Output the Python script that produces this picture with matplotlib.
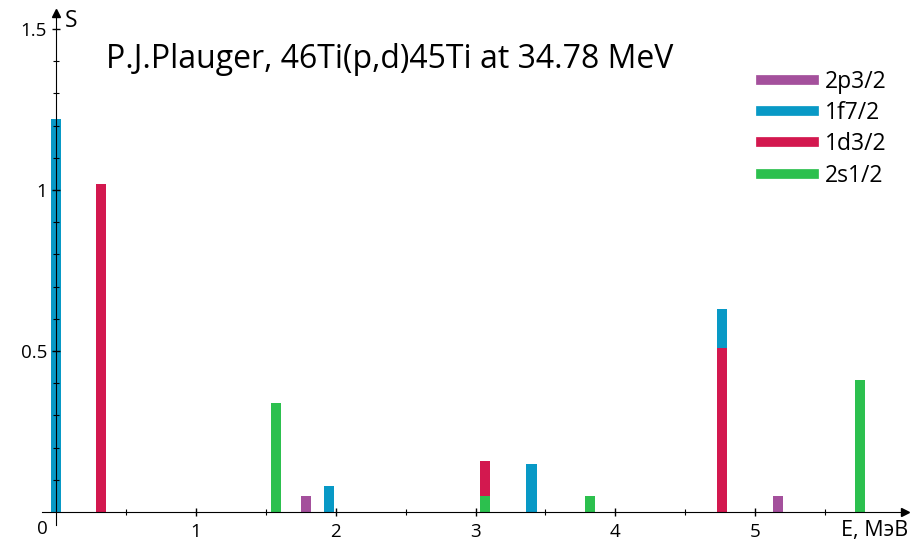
import matplotlib
matplotlib.use("Agg")
import matplotlib.pyplot as plt
from matplotlib.lines import Line2D
import numpy as np

plt.rcParams['font.family'] = ['Open Sans', 'DejaVu Sans']

# Данные: энергия уровня (МэВ) и спектроскопический фактор S
labels = ["2p3/2", "1f7/2", "1d3/2", "2s1/2"]
colors = ["#a4509c", "#0899c6", "#d3184f", "#2cc04e"]

e_2p32 = [1.79, 5.16]
s_2p32 = [0.05, 0.05]

e_1f72 = [0.0, 1.95, 3.40, 4.76]
s_1f72 = [1.22, 0.08, 0.15, 0.12]

e_1d32 = [0.32, 3.07, 4.76]
s_1d32 = [1.02, 0.11, 0.51]

e_2s12 = [1.57, 3.07, 3.82, 5.75]
s_2s12 = [0.34, 0.05, 0.05, 0.41]

x_ticks = [1, 2, 3, 4, 5]
y_ticks = [0.5, 1, 1.5]

fig = plt.figure(figsize=(9.14, 5.44), dpi=100)
ax = fig.add_axes([0.046, 0.0351, 0.944, 0.941])
ax.set_xlim(-0.1, 6.07)
ax.set_ylim(-0.04, 1.55)

# столбики рисуются снизу вверх: 2s1/2, 1d3/2, 1f7/2, 2p3/2
stack = {}
order = [(e_2s12, s_2s12, colors[3]), (e_1d32, s_1d32, colors[2]),
         (e_1f72, s_1f72, colors[1]), (e_2p32, s_2p32, colors[0])]
for e, s, c in order:
    bottom = [stack.get(x, 0.0) for x in e]
    ax.bar(e, s, bottom=bottom, width=0.072, color=c, zorder=2)
    for x, b, h in zip(e, bottom, s):
        stack[x] = b + h

# оси со стрелками (поверх столбиков)
ax.set_axisbelow(False)
for side in ["top", "right"]:
    ax.spines[side].set_visible(False)
ax.spines["left"].set_position(("data", 0))
ax.spines["bottom"].set_position(("data", 0))
ax.spines["left"].set_zorder(3)
ax.plot(1, 0, ">k", ms=6, transform=ax.get_yaxis_transform(), clip_on=False)
ax.plot(0, 1, "^k", ms=6, transform=ax.get_xaxis_transform(), clip_on=False)

ax.set_xticks(x_ticks)
ax.set_xticks(np.arange(0.5, 6, 1), minor=True)
ax.set_yticks(y_ticks)
ax.set_yticks(np.arange(0.1, 1.5, 0.1), minor=True)
ax.set_yticklabels(["0.5", "1", "1.5"])
ax.tick_params(direction="inout", length=6, labelsize=13.5, width=1)
ax.tick_params(which="minor", direction="inout", length=4, width=0.8)
ax.tick_params(axis="x", pad=5)

ax.text(-0.06, -0.025, "0", fontsize=13.5, ha="right", va="top")
ax.text(0.06, 1.525, "S", fontsize=16.5, ha="left", va="center")
ax.text(6.09, -0.025, "E, МэВ", fontsize=15.5, ha="right", va="top",
        clip_on=False)

ax.text(0.36, 1.405, "P.J.Plauger, 46Ti(p,d)45Ti at 34.78 MeV",
        fontsize=23, ha="left", va="center")

handles = [Line2D([0], [0], color=c, lw=7) for c in colors]
ax.legend(handles, labels, loc="upper left", bbox_to_anchor=(0.81, 0.91),
          bbox_transform=fig.transFigure, frameon=False, fontsize=16.5,
          handlelength=2.3, labelspacing=0.32, handletextpad=0.5)

fig.savefig("out.png", dpi=100)
